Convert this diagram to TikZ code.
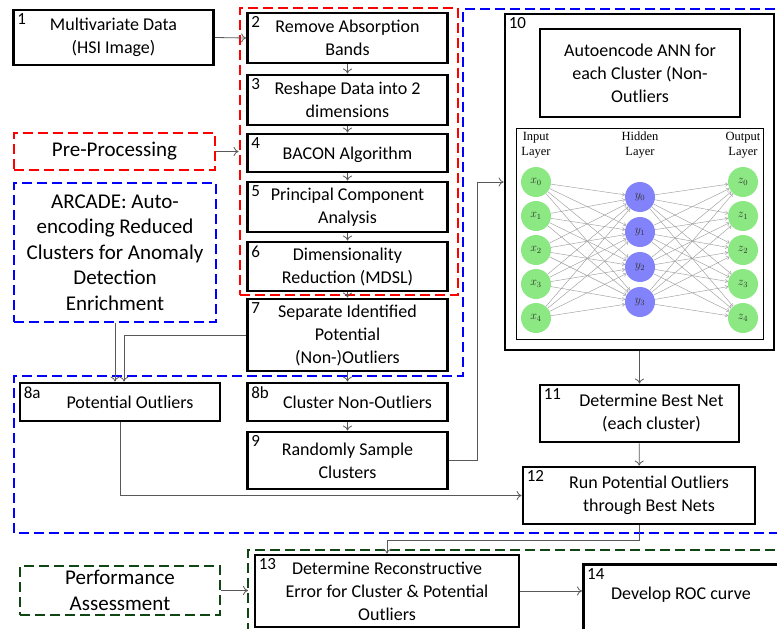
\documentclass[tikz,border=0pt]{standalone}
\usepackage{fontspec}
\setmainfont{Carlito}
\newfontfamily\netfont{Liberation Serif}
\usetikzlibrary{arrows.meta, positioning}
\definecolor{nodegreen}{RGB}{140,232,130}
\definecolor{nodeblue}{RGB}{130,130,250}
\definecolor{perfgreen}{RGB}{15,70,20}
\tikzset{
    x=1pt, y=-1pt, % pixel-like units, y pointing down
    box/.style = {draw, line width=2.8pt, align=center, inner sep=1pt, font=\fontsize{18}{23}\selectfont}, % process steps
    num/.style = {anchor=north west, inner sep=5pt, font=\fontsize{17}{18}\selectfont}, % step numbers
    grp/.style = {dash pattern=on 10pt off 5pt, line width=2.8pt, align=center, font=\fontsize{21}{25.5}\selectfont}, % dashed groups
    flow/.style = {-{To[length=5pt,width=9pt]}, draw=black!65, line width=0.8pt},
    neuron/.style = {circle, minimum size=30pt, inner sep=0pt, text=black!80, font=\fontsize{12}{12}\selectfont},
    syn/.style = {-{To[length=3pt,width=4pt]}, draw=black!38, line width=0.45pt},
    layer/.style = {align=center, font=\netfont\fontsize{12.5}{15}\selectfont}
}
\begin{document}
\begin{tikzpicture}
    \useasboundingbox (0,0) rectangle (777,629);
    % dashed groups
    \draw[grp, blue] (790,9) -- (463,9) -- (463,376) -- (14,376) -- (14,533) -- (790,533);
    \draw[grp, perfgreen] (790,550) -- (248,550) -- (248,640);
    \coordinate (perfin) at (248,590.5);
    \node[grp, draw=red, minimum width=218, minimum height=287] (prepframe) at (349,151.5) {};

    \node[grp, draw=red, minimum width=201, minimum height=37] (pre) at (114.5,151.5) {Pre-Processing};
    \node[grp, draw=blue, minimum width=202, minimum height=139] (arcade) at (115,252.5) {ARCADE: Auto-\\encoding Reduced\\Clusters for Anomaly\\Detection\\Enrichment};
    \node[grp, draw=perfgreen, minimum width=200, minimum height=49] (perf) at (120,590.5) {Performance\\Assessment};

    % pre-processing chain
    \node[box, minimum width=200, minimum height=55, label={[num]north west:1}] (n1) at (113.5,37.5) {Multivariate Data\\(HSI Image)};
    \node[box, minimum width=200, minimum height=50, label={[num]north west:2}] (n2) at (347.5,38) {Remove Absorption\\Bands};
    \node[box, minimum width=200, minimum height=50, label={[num]north west:3}] (n3) at (347.5,100) {Reshape Data into 2\\dimensions};
    \node[box, minimum width=200, minimum height=38, text height=16pt, label={[num]north west:4}] (n4) at (347.5,153) {BACON Algorithm};
    \node[box, minimum width=200, minimum height=50, label={[num]north west:5}] (n5) at (347.5,207) {Principal Component\\Analysis};
    \node[box, minimum width=200, minimum height=49, label={[num]north west:6}] (n6) at (347.5,266.5) {Dimensionality\\Reduction (MDSL)};
    \node[box, minimum width=200, minimum height=72, label={[num]north west:7}] (n7) at (347.5,335) {Separate Identified\\Potential\\(Non-)Outliers};

    % ARCADE
    \node[box, minimum width=200, minimum height=38, label={[num]north west:8a}] (n8a) at (120,402) {\hspace*{20pt}Potential Outliers};
    \node[box, minimum width=200, minimum height=38, label={[num]north west:8b}] (n8b) at (347.5,402) {\hspace*{20pt}Cluster Non-Outliers};
    \node[box, minimum width=200, minimum height=57, label={[num]north west:9}] (n9) at (347.5,460.5) {Randomly Sample\\Clusters};
    \node[box, minimum width=269, minimum height=336, label={[num]north west:10}] (n10) at (639.5,182) {};
    \node[box, minimum width=200, minimum height=88] (anntitle) at (640,73) {Autoencode ANN for\\each Cluster (Non-\\Outliers};
    \node[draw, line width=0.6pt, minimum width=247, minimum height=211] (annframe) at (639.5,233.5) {};
    \node[box, minimum width=199, minimum height=57, label={[num]north west:11}] (n11) at (639.5,413.5) {\hspace*{24pt}Determine Best Net\\\hspace*{24pt}(each cluster)};
    \node[box, minimum width=232, minimum height=57, label={[num]north west:12}] (n12) at (639,495.5) {\hspace*{20pt}Run Potential Outliers\\\hspace*{20pt}through Best Nets};

    % performance
    \node[box, minimum width=264, minimum height=72, label={[num]north west:13}] (n13) at (387,591) {Determine Reconstructive\\Error for Cluster \& Potential\\Outliers};
    \node[box, minimum width=195, minimum height=70, text depth=12pt, anchor=north west, label={[num]north west:14}] (n14) at (582,563) {Develop ROC curve};

    % autoencoder network
    \node[layer] (inlab) at (536,145) {Input\\Layer};
    \node[layer] (hidlab) at (640,145) {Hidden\\Layer};
    \node[layer] (outlab) at (743,145) {Output\\Layer};
    \foreach \i in {0,...,4} {
        \node[neuron, fill=nodegreen] (x\i) at (536,182+34*\i) {$x_{\i}$};
        \node[neuron, fill=nodegreen] (z\i) at (743,182+34*\i) {$z_{\i}$};
    }
    \foreach \j in {0,...,3}
        \node[neuron, fill=nodeblue] (y\j) at (640,197+35*\j) {$y_{\j}$};
    \foreach \i in {0,...,4}
        \foreach \j in {0,...,3} {
            \draw[syn] (x\i) -- (y\j);
            \draw[syn] (y\j) -- (z\i);
        }

    % connectors
    \draw[flow] (n1.east) -- (n2.west);
    \draw[flow] (n2) -- (n3);
    \draw[flow] (n3) -- (n4);
    \draw[flow] (n4) -- (n5);
    \draw[flow] (n5) -- (n6);
    \draw[flow] (n6) -- (n7);
    \draw[flow] (n7) -- (n8b);
    \draw[flow] (n8b) -- (n9);
    \draw[flow] (pre.east) -- (pre.east -| prepframe.west);
    \draw[flow] (arcade.south) -- (arcade.south |- n8a.north);
    \draw[flow] (n7.west) -| ([xshift=4pt]n8a.north);
    \draw[flow] (n8a.south) |- (n12.west);
    \draw[flow] (n9.east) -- ++(28,0) |- (n10.west);
    \draw[flow] (n10) -- (n11);
    \draw[flow] (n11) -- (n12);
    \draw[flow] (n12.south) -- ++(0,15) -| (n13.north);
    \draw[flow] (n13.east) -- (n13.east -| n14.west);
    \draw[flow] (perf.east) -- (perfin);
\end{tikzpicture}
\end{document}
